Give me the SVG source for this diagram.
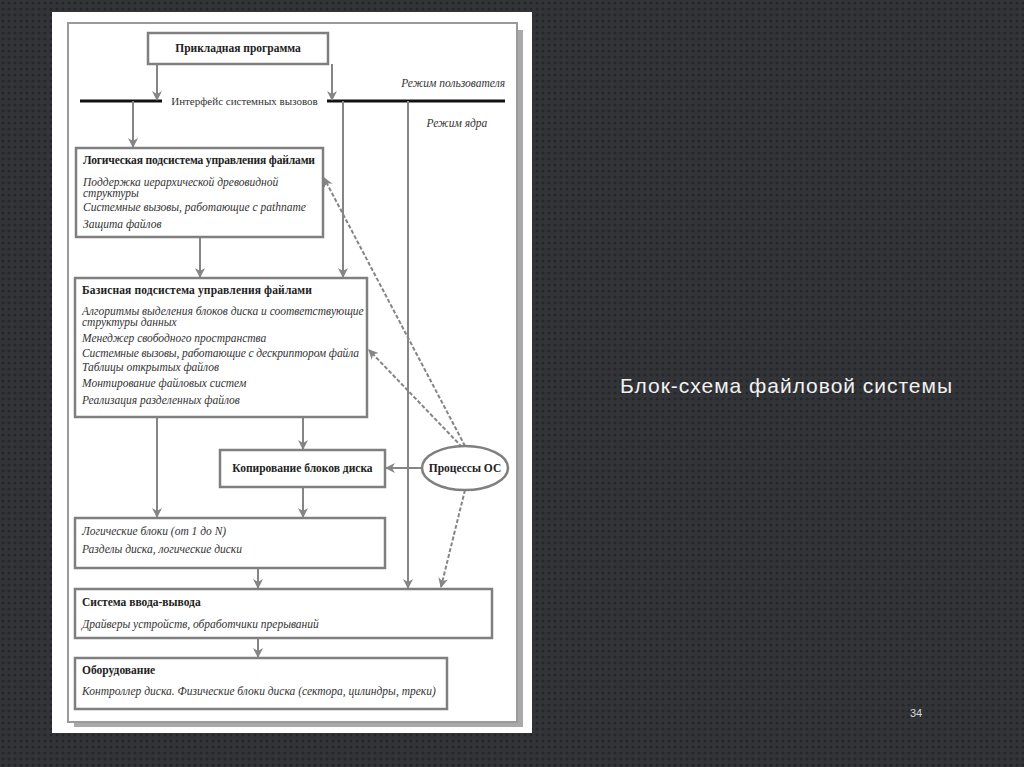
<svg xmlns="http://www.w3.org/2000/svg" width="1024" height="767" viewBox="0 0 1024 767">
<defs>
<pattern id="dots" width="6" height="6" patternUnits="userSpaceOnUse">
<rect width="6" height="6" fill="#323438"/>
<circle cx="3" cy="3" r="1.6" fill="#242629"/>
</pattern>
<marker id="ah" viewBox="0 0 10 10" refX="9" refY="5" markerWidth="5" markerHeight="5" orient="auto" markerUnits="strokeWidth">
<path d="M0,0 L10,5 L0,10 L3,5 z" fill="#858585"/>
</marker>
<style>
.box{fill:#fff;stroke:#7f7f7f;stroke-width:2.5}
.t{font-family:"Liberation Serif",serif;font-weight:bold;font-size:11.5px;fill:#222}
.i{font-family:"Liberation Serif",serif;font-style:italic;font-size:11.5px;fill:#333}
.n{font-family:"Liberation Serif",serif;font-size:11px;fill:#333}
.a{stroke:#858585;stroke-width:2;fill:none;marker-end:url(#ah)}
.d{stroke:#858585;stroke-width:2;fill:none;stroke-dasharray:4 2;marker-end:url(#ah)}
.bus{stroke:#111;stroke-width:3}
</style>
</defs>
<rect width="1024" height="767" fill="url(#dots)"/>
<rect x="52" y="12" width="480" height="721" fill="#fff"/>
<rect x="517" y="30" width="6" height="697" fill="#a9a9a9"/>
<rect x="74" y="722" width="449" height="5" fill="#a9a9a9"/>
<rect x="68" y="23" width="449" height="699" fill="#fff" stroke="#9a9a9a" stroke-width="2"/>

<g id="connectors">
<line class="bus" x1="80" y1="101" x2="162" y2="101"/>
<line class="bus" x1="327" y1="101" x2="505" y2="101"/>
<line class="a" x1="157" y1="64" x2="157" y2="100"/>
<line class="a" x1="332" y1="64" x2="332" y2="100"/>
<line class="a" x1="133" y1="101" x2="133" y2="147"/>
<line class="a" x1="343" y1="101" x2="343" y2="277"/>
<line class="a" x1="408" y1="101" x2="408" y2="588"/>
<line class="a" x1="200" y1="237" x2="200" y2="277"/>
<line class="a" x1="157" y1="417" x2="157" y2="517"/>
<line class="a" x1="303" y1="417" x2="303" y2="449"/>
<line class="a" x1="303" y1="487" x2="303" y2="517"/>
<line class="a" x1="258" y1="568" x2="258" y2="588"/>
<line class="a" x1="258" y1="638" x2="258" y2="657"/>
<line class="a" x1="422" y1="468" x2="386" y2="468"/>
<line class="d" x1="465" y1="446" x2="324" y2="178"/>
<line class="d" x1="462" y1="447" x2="369" y2="350"/>
<line class="d" x1="465" y1="490" x2="441" y2="587"/>
</g>

<g id="app">
<rect class="box" x="148" y="33" width="180" height="31"/>
<text class="t" x="238" y="52" text-anchor="middle">Прикладная программа</text>
</g>
<g id="syscall-labels">
<text class="n" x="244.5" y="105" text-anchor="middle">Интерфейс системных вызовов</text>
<text class="i" x="505" y="87" text-anchor="end">Режим пользователя</text>
<text class="i" x="457" y="127" text-anchor="middle">Режим ядра</text>
</g>
<g id="logical">
<rect class="box" x="76" y="148" width="247" height="89"/>
<text class="t" x="83" y="164" textLength="232">Логическая подсистема управления файлами</text>
<text class="i" x="83" y="186">Поддержка иерархической древовидной</text>
<text class="i" x="83" y="197">структуры</text>
<text class="i" x="83" y="211">Системные вызовы, работающие с pathname</text>
<text class="i" x="83" y="228">Защита файлов</text>
</g>
<g id="basic">
<rect class="box" x="75" y="278" width="292" height="139"/>
<text class="t" x="82" y="294" textLength="230">Базисная подсистема управления файлами</text>
<text class="i" x="82" y="315">Алгоритмы выделения блоков диска и соответствующие</text>
<text class="i" x="82" y="326">структуры данных</text>
<text class="i" x="82" y="342">Менеджер свободного пространства</text>
<text class="i" x="82" y="357" textLength="277">Системные вызовы, работающие с дескриптором файла</text>
<text class="i" x="82" y="371">Таблицы открытых файлов</text>
<text class="i" x="82" y="387">Монтирование файловых систем</text>
<text class="i" x="82" y="404">Реализация разделенных файлов</text>
</g>
<g id="copy">
<rect class="box" x="220" y="450" width="165" height="37"/>
<text class="t" x="302.5" y="472" text-anchor="middle">Копирование блоков диска</text>
</g>
<g id="procs">
<ellipse cx="465" cy="468" rx="43" ry="22" fill="#fff" stroke="#7f7f7f" stroke-width="2.5"/>
<text class="t" x="465" y="472" text-anchor="middle">Процессы ОС</text>
</g>
<g id="lblocks">
<rect class="box" x="75" y="518" width="310" height="50"/>
<text class="i" x="82" y="535">Логические блоки (от 1 до N)</text>
<text class="i" x="82" y="553">Разделы диска, логические диски</text>
</g>
<g id="io">
<rect class="box" x="75" y="589" width="417" height="49"/>
<text class="t" x="82" y="606">Система ввода-вывода</text>
<text class="i" x="82" y="628">Драйверы устройств, обработчики прерываний</text>
</g>
<g id="hw">
<rect class="box" x="75" y="658" width="372" height="51"/>
<text class="t" x="82" y="674">Оборудование</text>
<text class="i" x="82" y="695">Контроллер диска. Физические блоки диска (сектора, цилиндры, треки)</text>
</g>

<text x="620" y="393" font-family="'Liberation Sans',Arial,sans-serif" font-size="21" fill="#f2f2f2" textLength="332">Блок-схема файловой системы</text>
<text x="916" y="717" font-family="'Liberation Sans',Arial,sans-serif" font-size="11" fill="#d8d8d8" text-anchor="middle">34</text>
</svg>
